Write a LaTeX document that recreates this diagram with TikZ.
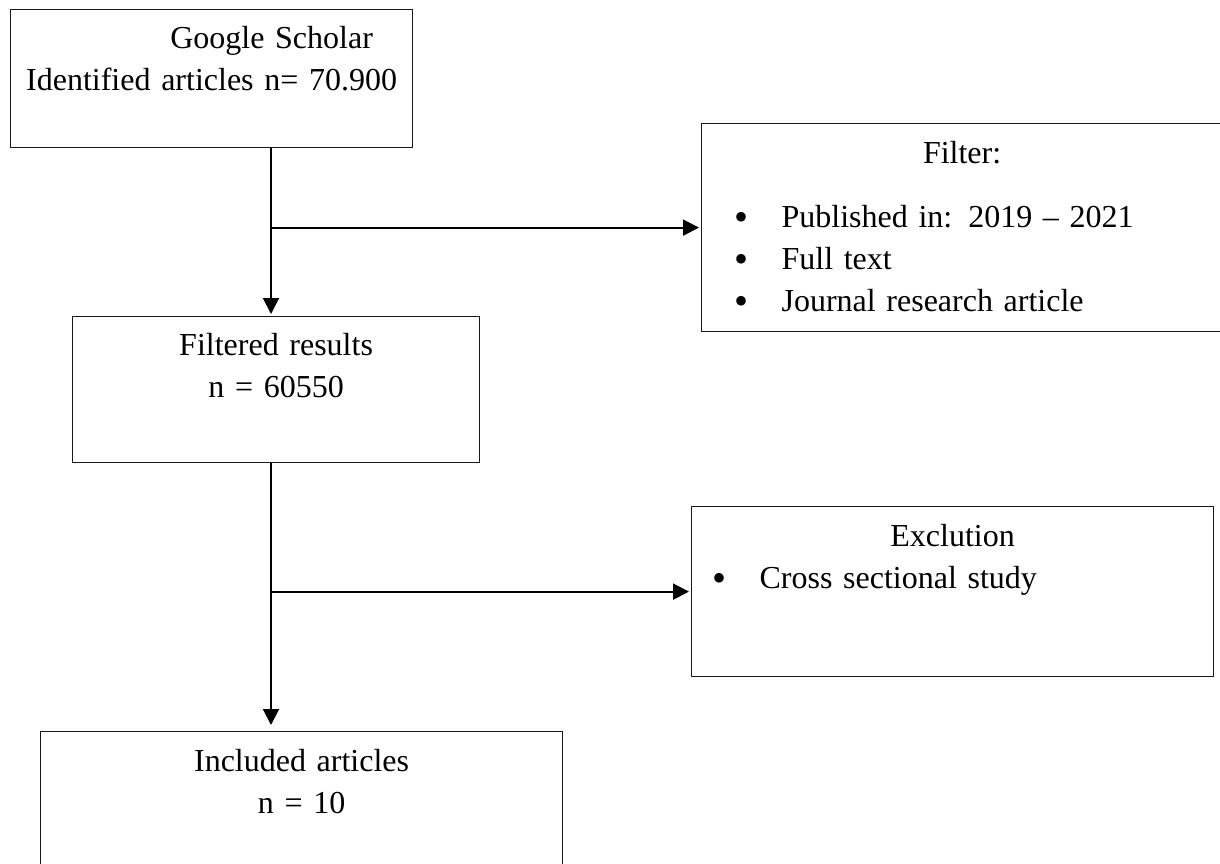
\documentclass[tikz,border=0pt]{standalone}
\usepackage{fontspec}
\setmainfont{Liberation Serif}
\usepackage{tikz}
\usetikzlibrary{arrows.meta}
\tikzset{
    % Base style for all boxes
    flow base/.style={
        font=\fontsize{16}{21}\selectfont,
        anchor=north west,
        inner sep=0pt,
        text height=20pt,
        draw=black!90,
        line width=0.6pt,
    },
    % Main boxes - centred text at the top
    stage/.style={
        flow base,
        align=center,
    },
    % Side boxes - heading and bullet list
    side/.style={
        flow base,
        align=left,
    },
    % Arrow style - plain black, filled head
    arrow/.style={
        -{Triangle[length=8pt, width=8pt]},
        line width=1pt,
        shorten >=1pt,
    },
}
\newcommand{\bulletline}[2]{\hspace*{#1}\makebox[23.5pt][l]{\raisebox{-1.4pt}{\fontsize{20}{20}\selectfont\textbullet}}#2}

\begin{document}
\begin{tikzpicture}[x=0.5pt, y=-0.5pt]
    \useasboundingbox (0,0) rectangle (1220,863);
    \coordinate (trunk) at (271,0);

    \node (search) [stage, text width=201pt, text height=19.5pt, text depth=49.5pt] at (10,9)
        {\hspace*{60pt}Google Scholar\\Identified articles n= 70.900};
    \node (filter) [side, text width=260.5pt, text depth=84pt] at (701,123)
        {\makebox[\linewidth]{Filter:}\\[11pt]
         \bulletline{16.5pt}{Published in: 2019 – 2021}\\
         \bulletline{16.5pt}{Full text}\\
         \bulletline{16.5pt}{Journal research article}};
    \node (filtered) [stage, text width=203.5pt, text height=19.5pt, text depth=53.5pt] at (72,316)
        {Filtered results\\n = 60550};
    \node (exclusion) [side, text width=261pt, text depth=65pt] at (691,506)
        {\makebox[\linewidth]{Exclution}\\
         \bulletline{10.5pt}{Cross sectional study}};
    \node (included) [stage, text width=261pt, text depth=54.5pt] at (40,731)
        {Included articles\\n = 10};

    \draw [arrow] (search.south -| trunk) -- (filtered.north -| trunk);
    \draw [arrow] (trunk |- filter.west) -- (filter.west);
    \draw [arrow, shorten >=3pt] (filtered.south -| trunk) -- (included.north -| trunk);
    \draw [arrow] (trunk |- exclusion.west) -- (exclusion.west);
\end{tikzpicture}
\end{document}
